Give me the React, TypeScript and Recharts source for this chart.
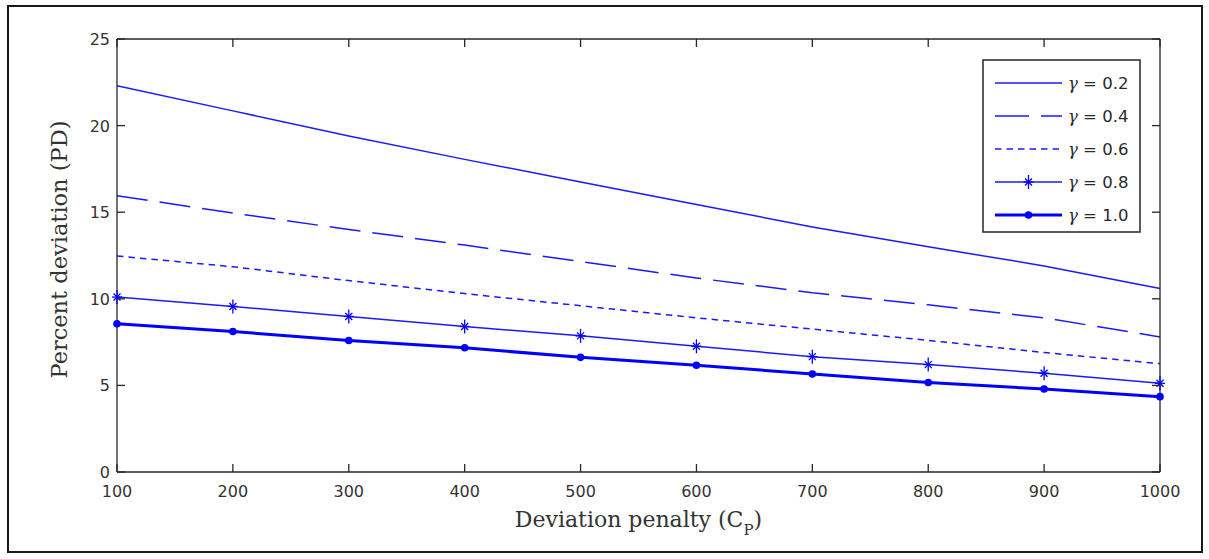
import React from "react";
import { LineChart, Line, XAxis, YAxis, Legend } from "recharts";

const penalties = [100, 200, 300, 400, 500, 600, 700, 800, 900, 1000];
const gamma02 = [22.3, 20.85, 19.4, 18.05, 16.75, 15.45, 14.15, 13.0, 11.9, 10.6];
const gamma04 = [15.95, 14.95, 14.0, 13.1, 12.15, 11.2, 10.35, 9.65, 8.9, 7.8];
const gamma06 = [12.47, 11.85, 11.05, 10.3, 9.6, 8.9, 8.25, 7.6, 6.9, 6.25];
const gamma08 = [10.1, 9.56, 8.98, 8.4, 7.86, 7.26, 6.66, 6.2, 5.7, 5.12];
const gamma10 = [8.56, 8.11, 7.59, 7.17, 6.62, 6.16, 5.66, 5.17, 4.79, 4.35];
const xTicks = [100, 200, 300, 400, 500, 600, 700, 800, 900, 1000];
const yTicks = [0, 5, 10, 15, 20, 25];
const legendLabels = ["0.2", "0.4", "0.6", "0.8", "1.0"];

const BLUE = "#0000ff";
const THIN = "#1a1aff";

type SeriesDef = {
  key: string;
  label: string;
  values: number[];
  dash?: string;
  width: number;
  color: string;
  marker: "none" | "star" | "dot";
};

const series: SeriesDef[] = [
  { key: "g02", label: legendLabels[0], values: gamma02, width: 1.5, color: THIN, marker: "none" },
  { key: "g04", label: legendLabels[1], values: gamma04, dash: "31 12", width: 1.5, color: THIN, marker: "none" },
  { key: "g06", label: legendLabels[2], values: gamma06, dash: "6.5 5", width: 1.5, color: THIN, marker: "none" },
  { key: "g08", label: legendLabels[3], values: gamma08, width: 1.5, color: THIN, marker: "star" },
  { key: "g10", label: legendLabels[4], values: gamma10, width: 3, color: BLUE, marker: "dot" },
];

const data = penalties.map((p, i) => {
  const row: Record<string, number> = { x: p };
  series.forEach((s) => {
    row[s.key] = s.values[i];
  });
  return row;
});

const Star = ({ cx, cy, sw = 1.3 }: { cx: number; cy: number; sw?: number }) => (
  <g stroke={BLUE} strokeWidth={sw} fill="none">
    <line x1={cx} y1={cy - 7} x2={cx} y2={cy + 7} />
    <line x1={cx - 5} y1={cy} x2={cx + 5} y2={cy} />
    <line x1={cx - 3.5} y1={cy - 3.5} x2={cx + 3.5} y2={cy + 3.5} />
    <line x1={cx - 3.5} y1={cy + 3.5} x2={cx + 3.5} y2={cy - 3.5} />
  </g>
);

const starDot = (props: any) => {
  const { cx, cy, index } = props;
  if (cx == null || cy == null) return <g key={`s${index}`} />;
  return <Star key={`s${index}`} cx={cx} cy={cy} />;
};

const roundDot = (props: any) => {
  const { cx, cy, index } = props;
  if (cx == null || cy == null) return <g key={`d${index}`} />;
  return <circle key={`d${index}`} cx={cx} cy={cy} r={3.8} fill={BLUE} stroke="none" />;
};

const renderLegend = () => (
  <svg width={159} height={176} style={{ display: "block" }}>
    <rect x={1} y={1} width={157} height={172} fill="#ffffff" stroke="#333333" strokeWidth={1.6} />
    {series.map((s, i) => {
      const cy = 24 + i * 33;
      return (
        <g key={s.key}>
          <line
            x1={13}
            y1={cy}
            x2={80}
            y2={cy}
            stroke={s.color}
            strokeWidth={s.width}
            strokeDasharray={s.dash === "31 12" ? "34 12" : s.dash}
          />
          {s.marker === "star" && <Star cx={46.5} cy={cy} />}
          {s.marker === "dot" && <circle cx={46.5} cy={cy} r={3.8} fill={BLUE} />}
          <text x={86} y={cy + 6} fontSize={16.5} fill="#2a2a2a" fontFamily="DejaVu Sans">
            <tspan fontFamily="DejaVu Serif" fontStyle="italic">γ</tspan>
            <tspan> = {s.label}</tspan>
          </text>
        </g>
      );
    })}
  </svg>
);

const axisStroke = "#262626";
const labelFill = "#333333";
const TICK_LEN = 8;

const BottomTick = (props: any) => {
  const { x, y, payload } = props;
  return (
    <g>
      <line x1={x} y1={y} x2={x} y2={y - TICK_LEN} stroke={axisStroke} strokeWidth={1.3} />
      <text x={x} y={y + 25} textAnchor="middle" fontSize={16} fill={labelFill} fontFamily="DejaVu Sans">
        {payload.value}
      </text>
    </g>
  );
};

const TopTick = (props: any) => {
  const { x, y } = props;
  return <line x1={x} y1={y} x2={x} y2={y + TICK_LEN} stroke={axisStroke} strokeWidth={1.3} />;
};

const LeftTick = (props: any) => {
  const { x, y, payload } = props;
  return (
    <g>
      <line x1={x} y1={y} x2={x + TICK_LEN} y2={y} stroke={axisStroke} strokeWidth={1.3} />
      <text x={x - 7} y={y + 6} textAnchor="end" fontSize={16} fill={labelFill} fontFamily="DejaVu Sans">
        {payload.value}
      </text>
    </g>
  );
};

const RightTick = (props: any) => {
  const { x, y } = props;
  return <line x1={x} y1={y} x2={x - TICK_LEN} y2={y} stroke={axisStroke} strokeWidth={1.3} />;
};

const XLabel = (props: any) => {
  const vb = props.viewBox || {};
  const cx = vb.x + vb.width / 2;
  const y = vb.y + 55;
  return (
    <text x={cx} y={y} textAnchor="middle" fontSize={22} fill={labelFill} fontFamily="DejaVu Serif">
      Deviation penalty (C
      <tspan fontSize={15} dy={8}>P</tspan>
      <tspan dy={-8}>)</tspan>
    </text>
  );
};

const YLabel = (props: any) => {
  const vb = props.viewBox || {};
  const x = 58;
  const y = vb.y + vb.height / 2 - 6;
  return (
    <text
      x={x}
      y={y}
      textAnchor="middle"
      fontSize={22.5}
      fill={labelFill}
      fontFamily="DejaVu Serif"
      transform={`rotate(-90 ${x} ${y})`}
    >
      Percent deviation (PD)
    </text>
  );
};

export default function App() {
  return (
    <div
      style={{
        position: "absolute",
        left: 7,
        top: 5,
        width: 1196,
        height: 548,
        border: "2px solid #1a1a1a",
        boxSizing: "border-box",
        background: "#ffffff",
      }}
    >
      <LineChart
        width={1192}
        height={544}
        data={data}
        margin={{ top: 31, right: 40, bottom: 49, left: 0 }}
      >
        <XAxis
          xAxisId="b"
          dataKey="x"
          type="number"
          domain={[100, 1000]}
          ticks={xTicks}
          height={30}
          tick={<BottomTick />}
          tickLine={false}
          tickSize={0}
          tickMargin={0}
          axisLine={{ stroke: axisStroke, strokeWidth: 1.3 }}
          interval={0}
          label={<XLabel />}
        />
        <XAxis
          xAxisId="t"
          orientation="top"
          dataKey="x"
          type="number"
          domain={[100, 1000]}
          ticks={xTicks}
          allowDataOverflow
          height={1}
          tick={<TopTick />}
          tickLine={false}
          tickSize={0}
          tickMargin={0}
          axisLine={{ stroke: axisStroke, strokeWidth: 1.3 }}
          interval={0}
        />
        <YAxis
          yAxisId="l"
          type="number"
          domain={[0, 25]}
          ticks={yTicks}
          width={108}
          tick={<LeftTick />}
          tickLine={false}
          tickSize={0}
          tickMargin={0}
          axisLine={{ stroke: axisStroke, strokeWidth: 1.3 }}
          interval={0}
          label={<YLabel />}
        />
        <YAxis
          yAxisId="r"
          orientation="right"
          type="number"
          domain={[0, 25]}
          ticks={yTicks}
          allowDataOverflow
          width={1}
          tick={<RightTick />}
          tickLine={false}
          tickSize={0}
          tickMargin={0}
          axisLine={{ stroke: axisStroke, strokeWidth: 1.3 }}
          interval={0}
        />
        <Legend
          content={renderLegend}
          layout="vertical"
          align="center"
          verticalAlign="middle"
          wrapperStyle={{ left: 973, top: 52, width: 159, height: 176 }}
        />
        {series.map((s) => (
          <Line
            key={s.key}
            xAxisId="b"
            yAxisId="l"
            type="linear"
            dataKey={s.key}
            stroke={s.color}
            strokeWidth={s.width}
            strokeDasharray={s.dash}
            dot={s.marker === "star" ? starDot : s.marker === "dot" ? roundDot : false}
            activeDot={false}
            isAnimationActive={false}
          />
        ))}
      </LineChart>
    </div>
  );
}
